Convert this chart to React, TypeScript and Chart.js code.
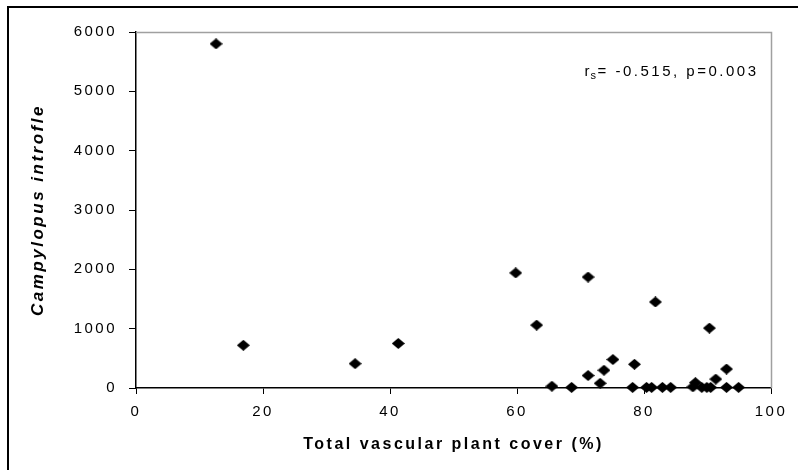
import React, { useEffect, useRef } from "react";
import { Chart, registerables } from "chart.js";

Chart.register(...registerables);

const xValues = [12.6, 16.9, 34.5, 41.3, 59.8, 63.1, 65.5, 68.6, 71.2, 71.2, 73.1, 73.7, 75.1, 78.5, 78.2, 80.4, 81.2, 81.8, 82.9, 84.2, 87.7, 88.1, 89.1, 89.9, 90.5, 90.3, 91.3, 93.0, 93.0, 94.9];
const yValues = [5800, 720, 410, 750, 1940, 1060, 30, 10, 1870, 210, 80, 300, 480, 400, 10, 10, 10, 1450, 10, 10, 20, 90, 10, 10, 10, 1010, 150, 320, 10, 10];

const xTicks = [0, 20, 40, 60, 80, 100];
const yTicks = [0, 1000, 2000, 3000, 4000, 5000, 6000];
const xTitle = "Total vascular plant cover (%)";
const yTitle = "Campylopus introfle";
const statLabelR = "r";
const statLabelSub = "s";
const statText = "= -0.515, p=0.003";

const FONT = "'Liberation Sans', Arial, sans-serif";

function makeDiamond(): HTMLCanvasElement {
  const c = document.createElement("canvas");
  c.width = 13;
  c.height = 11;
  const g = c.getContext("2d")!;
  g.fillStyle = "#000";
  g.beginPath();
  g.moveTo(6.5, 0);
  g.lineTo(13, 5.5);
  g.lineTo(6.5, 11);
  g.lineTo(0, 5.5);
  g.closePath();
  g.fill();
  return c;
}

export default function App() {
  const ref = useRef<HTMLCanvasElement>(null);

  useEffect(() => {
    document.body.style.margin = "0";
    document.body.style.overflow = "hidden";
    const canvas = ref.current!;
    const diamond = makeDiamond();

    const spacingPlugin = {
      id: "spacing",
      beforeUpdate(chart: any) {
        (chart.ctx as any).letterSpacing = "2.5px";
      },
      beforeDraw(chart: any) {
        (chart.ctx as any).letterSpacing = "2.5px";
      },
      afterDraw(chart: any) {
        const ctx = chart.ctx;
        const a = chart.chartArea;
        ctx.save();
        ctx.strokeStyle = "#a0a0a0";
        ctx.lineWidth = 1.5;
        ctx.beginPath();
        ctx.moveTo(a.left, a.top + 0.5);
        ctx.lineTo(a.right + 0.5, a.top + 0.5);
        ctx.lineTo(a.right + 0.5, a.bottom);
        ctx.stroke();
        ctx.strokeStyle = "#000";
        ctx.lineWidth = 2;
        ctx.beginPath();
        ctx.moveTo(8, 470);
        ctx.lineTo(8, 7);
        ctx.lineTo(798, 7);
        ctx.stroke();
        (ctx as any).letterSpacing = "2.5px";
        ctx.fillStyle = "#000";
        ctx.textBaseline = "alphabetic";
        ctx.font = `15px ${FONT}`;
        const wR = ctx.measureText(statLabelR).width;
        ctx.font = `11px ${FONT}`;
        const wS = ctx.measureText(statLabelSub).width;
        ctx.font = `15px ${FONT}`;
        const wT = ctx.measureText(statText).width;
        const right = 759;
        let x = right - (wR + wS + wT) + 2;
        const y = 76;
        ctx.textAlign = "left";
        ctx.fillText(statLabelR, x, y);
        x += wR - 1.5;
        ctx.font = `11px ${FONT}`;
        ctx.fillText(statLabelSub, x, y + 3);
        x += wS - 1;
        ctx.font = `15px ${FONT}`;
        ctx.fillText(statText, x, y);
        ctx.restore();
      },
    };

    const chart = new Chart(canvas, {
      type: "scatter",
      data: {
        datasets: [
          {
            data: xValues.map((x, i) => ({ x, y: yValues[i] })),
            pointStyle: diamond as any,
            pointRadius: 6,
            backgroundColor: "#000",
            borderColor: "#000",
          },
        ],
      },
      plugins: [spacingPlugin],
      options: {
        responsive: false,
        animation: false,
        devicePixelRatio: 1,
        clip: false as any,
        layout: { padding: { left: 0, top: 32, right: 27, bottom: 0 } },
        plugins: { legend: { display: false }, tooltip: { enabled: false } },
        scales: {
          x: {
            type: "linear",
            min: 0,
            max: 100,
            afterBuildTicks(scale: any) {
              scale.ticks = xTicks.map((v) => ({ value: v }));
            },
            afterFit(scale: any) {
              scale.height = 82;
            },
            grid: {
              display: true,
              drawOnChartArea: false,
              drawTicks: true,
              tickLength: 6,
              color: "#000",
              lineWidth: 1,
            },
            border: { display: true, color: "#000", width: 1.5 },
            ticks: {
              color: "#000",
              font: { family: FONT, size: 15 },
              padding: 9,
              maxRotation: 0,
              callback: (v: any) => String(v),
            },
            title: {
              display: true,
              text: xTitle,
              color: "#000",
              font: { family: FONT, size: 16, weight: "bold" },
              padding: { top: 4, bottom: 16 },
            },
          },
          y: {
            type: "linear",
            min: 0,
            max: 6000,
            afterBuildTicks(scale: any) {
              scale.ticks = yTicks.map((v) => ({ value: v }));
            },
            afterFit(scale: any) {
              scale.width = 136;
            },
            grid: {
              display: true,
              drawOnChartArea: false,
              drawTicks: true,
              tickLength: 7,
              color: "#000",
              lineWidth: 1,
            },
            border: { display: true, color: "#000", width: 1.5 },
            ticks: {
              color: "#000",
              font: { family: FONT, size: 15 },
              padding: 12,
              callback: (v: any) => String(v),
            },
            title: {
              display: true,
              text: yTitle,
              color: "#000",
              font: { family: FONT, size: 17, weight: "bold", style: "italic" },
              padding: { top: 28, bottom: 0 },
            },
          },
        },
      },
    });
    return () => chart.destroy();
  }, []);

  return (
    <div style={{ width: 798, height: 470 }}>
      <canvas ref={ref} width={798} height={470} style={{ display: "block" }} />
    </div>
  );
}
